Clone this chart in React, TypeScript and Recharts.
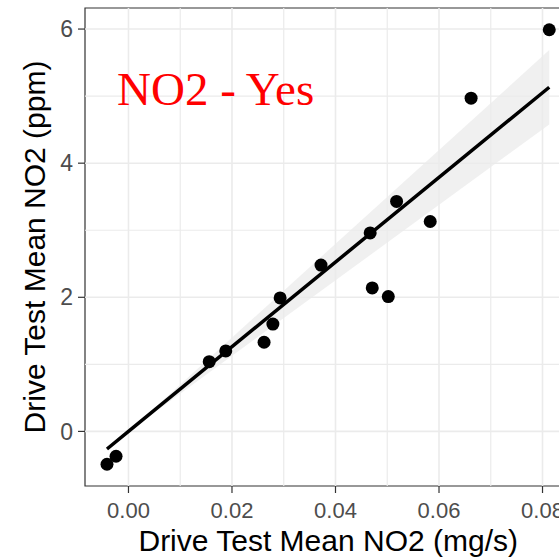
import React from "react";
import {
  ComposedChart,
  XAxis,
  YAxis,
  Scatter,
  Line,
  Area,
  ReferenceLine,
  ReferenceArea,
} from "recharts";

// drive test points (mg/s vs ppm)
const DRIVE_X = [
  -0.00415, -0.0024, 0.0156, 0.0188, 0.0262, 0.0279, 0.0293, 0.0372,
  0.0467, 0.0518, 0.0471, 0.0502, 0.0583, 0.0662, 0.0813,
];
const DRIVE_Y = [
  -0.49, -0.37, 1.04, 1.2, 1.33, 1.6, 1.99, 2.48, 2.96, 3.43, 2.14, 2.01,
  3.13, 4.97, 5.99,
];

const X_TICKS = [0, 0.02, 0.04, 0.06, 0.08];
const X_MINOR = [0.01, 0.03, 0.05, 0.07];
const Y_TICKS = [0, 2, 4, 6];
const Y_MINOR = [1, 3, 5];
const X_DOMAIN: [number, number] = [-0.0084, 0.0856];
const Y_DOMAIN: [number, number] = [-0.814, 6.314];

const PANEL_TITLE = "NO2 - Yes";
const X_TITLE = "Drive Test Mean NO2 (mg/s)";
const Y_TITLE = "Drive Test Mean NO2 (ppm)";

const points = DRIVE_X.map((x, i) => ({ x, y: DRIVE_Y[i] }));

// lm(y ~ 0 + x) with 95% confidence band, like geom_smooth
function fitThroughOrigin(xs: number[], ys: number[]) {
  const n = xs.length;
  let sxx = 0;
  let sxy = 0;
  xs.forEach((x, i) => {
    sxx += x * x;
    sxy += x * ys[i];
  });
  const b = sxy / sxx;
  let rss = 0;
  xs.forEach((x, i) => {
    rss += (ys[i] - b * x) ** 2;
  });
  const s = Math.sqrt(rss / (n - 1));
  const t = 2.1448; // qt(0.975, 14)
  // band is |x|-shaped, so the ends plus the origin are enough
  const grid = [Math.min(...xs), 0, Math.max(...xs)];
  return grid.map((x) => {
    const fit = b * x;
    const se = (s * Math.abs(x)) / Math.sqrt(sxx);
    return { x, y: fit, band: [fit - t * se, fit + t * se] };
  });
}

const fitRows = fitThroughOrigin(DRIVE_X, DRIVE_Y);

const SANS = "'Liberation Sans', Arial, sans-serif";
const GRID = "#ebebeb";

const Dot = (props: any) => (
  <circle cx={props.cx} cy={props.cy} r={6.5} fill="#000" />
);

export default function App() {
  return (
    <div
      style={{
        position: "absolute",
        left: 0,
        top: 0,
        width: 559,
        height: 559,
        overflow: "hidden",
        background: "#fff",
      }}
    >
      <ComposedChart
        width={600}
        height={559}
        data={fitRows}
        margin={{ top: 8, right: 28.5, bottom: 0, left: 0 }}
        style={{ fontFamily: SANS }}
      >
        <XAxis
          dataKey="x"
          type="number"
          domain={X_DOMAIN}
          allowDataOverflow
          ticks={X_TICKS}
          tickFormatter={(v: number) => v.toFixed(2)}
          tick={{ fill: "#4d4d4d", fontSize: 22 }}
          tickLine={{ stroke: "#333333", strokeWidth: 1.2 }}
          tickSize={7}
          tickMargin={9}
          axisLine={false}
          height={73}
          label={{
            value: X_TITLE,
            position: "insideBottom",
            offset: 8,
            fill: "#000",
            fontSize: 30,
          }}
        />
        <YAxis
          type="number"
          domain={Y_DOMAIN}
          allowDataOverflow
          ticks={Y_TICKS}
          tick={{ fill: "#4d4d4d", fontSize: 23 }}
          tickLine={{ stroke: "#333333", strokeWidth: 1.2 }}
          tickSize={7}
          tickMargin={5}
          axisLine={false}
          width={85}
          label={{
            value: Y_TITLE,
            angle: -90,
            position: "insideLeft",
            offset: 34.5,
            fill: "#000",
            fontSize: 30,
            style: { textAnchor: "middle" },
          }}
        />

        {X_MINOR.map((v) => (
          <ReferenceLine key={"xm" + v} x={v} stroke={GRID} strokeWidth={1.2} />
        ))}
        {Y_MINOR.map((v) => (
          <ReferenceLine key={"ym" + v} y={v} stroke={GRID} strokeWidth={1.2} />
        ))}
        {X_TICKS.map((v) => (
          <ReferenceLine key={"x" + v} x={v} stroke={GRID} strokeWidth={1.6} />
        ))}
        {Y_TICKS.map((v) => (
          <ReferenceLine key={"y" + v} y={v} stroke={GRID} strokeWidth={1.6} />
        ))}

        <Area
          dataKey="band"
          type="linear"
          stroke="none"
          fill="#999999"
          fillOpacity={0.15}
          isAnimationActive={false}
        />
        <Scatter
          data={points}
          dataKey="y"
          shape={Dot}
          isAnimationActive={false}
        />
        <Line
          dataKey="y"
          type="linear"
          stroke="#000"
          strokeWidth={3.5}
          dot={false}
          activeDot={false}
          isAnimationActive={false}
        />
        <ReferenceArea
          x1={X_DOMAIN[0]}
          x2={X_DOMAIN[1]}
          y1={Y_DOMAIN[0]}
          y2={Y_DOMAIN[1]}
          fill="none"
          stroke="#333333"
          strokeWidth={1.2}
          ifOverflow="visible"
        />
      </ComposedChart>
      <svg
        width={559}
        height={559}
        style={{ position: "absolute", left: 0, top: 0, pointerEvents: "none" }}
      >
        <text
          x={117}
          y={105}
          fill="#ff0000"
          fontSize={47}
          fontFamily="'Liberation Serif', 'Times New Roman', serif"
        >
          {PANEL_TITLE}
        </text>
      </svg>
    </div>
  );
}
